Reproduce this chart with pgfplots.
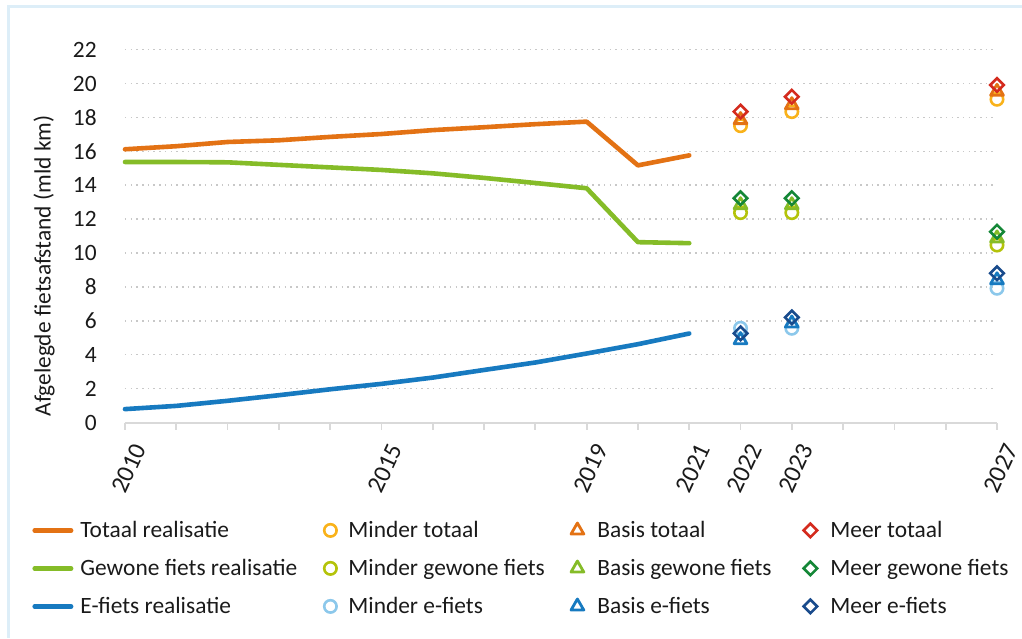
\documentclass[border=0pt]{standalone}
\usepackage{fontspec}
\setmainfont{Carlito}
\usepackage{pgfplots}
\pgfplotsset{compat=1.18}
\definecolor{cOrange}{RGB}{227,114,20}
\definecolor{cGreen}{RGB}{133,188,40}
\definecolor{cBlue}{RGB}{23,122,192}
\definecolor{cYellow}{RGB}{249,178,26}
\definecolor{cRed}{RGB}{212,43,30}
\definecolor{cOlive}{RGB}{180,195,10}
\definecolor{cDkGreen}{RGB}{20,135,55}
\definecolor{cLtBlue}{RGB}{140,200,235}
\definecolor{cDkBlue}{RGB}{25,75,140}
\definecolor{cGrid}{RGB}{200,200,200}
\definecolor{cAxis}{RGB}{217,217,217}
\definecolor{cFrame}{RGB}{221,238,248}
\definecolor{cText}{RGB}{26,26,26}
\newcommand{\chartfont}{\fontsize{11.7}{14}\selectfont}
\newcommand{\xtickfont}{\fontsize{12.5}{15}\selectfont}
\pgfplotsset{
  lineleg/.style={legend image code/.code={\draw[##1, line cap=round] (1.15pt,0pt) -- (19.35pt,0pt); \path[draw=none, fill=none] (0pt,0pt) -- (24pt,0pt);}},
  mkA/.style={legend image code/.code={\path[##1, draw=none, fill=none] (0pt,0pt) -- (17pt,0pt); \draw[##1] plot[only marks] coordinates {(8pt,0pt)};}},
  mkB/.style={legend image code/.code={\path[##1, draw=none, fill=none] (0pt,0pt) -- (18pt,0pt); \draw[##1] plot[only marks] coordinates {(8pt,0pt)};}},
  ser/.style={line width=2.3pt, line cap=round, line join=round, lineleg},
  circ/.style={only marks, mark=o, mark size=3.1pt, mark options={line width=1.3pt, solid}, mkA},
  tri/.style={only marks, mark=triangle, mark size=3.7pt, mark options={line width=1.4pt, solid, line join=round}, mkB},
  dia/.style={only marks, mark=square, mark size=2.4pt, mark options={line width=1.3pt, solid, rotate=45}, mkB},
}
\begin{document}
\begin{tikzpicture}
\useasboundingbox (0,0) rectangle (511pt,319pt);
\draw[cFrame, line width=1.5pt] (4.3pt,0pt) -- (4.3pt,315.5pt) -- (511pt,315.5pt);
\begin{axis}[
  at={(62.5pt,107.75pt)}, anchor=south west,
  scale only axis, width=436pt, height=186.45pt,
  xmin=2010, xmax=2027, ymin=0, ymax=22,
  clip=false,
  axis x line*=bottom, axis y line*=left,
  x axis line style={cAxis, line width=1pt, -},
  y axis line style={draw=none},
  ytick={0,2,...,22},
  ymajorgrids,
  grid style={cGrid, dash pattern=on 0.75pt off 2.1pt, line width=0.75pt},
  xtick={2010,2015,2019,2021,2022,2023,2027},
  xticklabels={2010,2015,2019,2021,2022,2023,2027},
  minor xtick={2011,2012,2013,2014,2016,2017,2018,2020,2024,2025,2026},
  tick align=outside, major tick length=3.5pt, minor tick length=3.5pt,
  tick style={cAxis, line width=0.9pt},
  ytick style={draw=none},
  /pgf/number format/assume math mode=true,
  tick label style={font=\chartfont, text=cText},
  xticklabel style={font=\xtickfont, rotate=65, anchor=east, inner sep=1pt, yshift=-10pt, xshift=-3pt},
  yticklabel style={anchor=east, inner sep=0pt, xshift=-10.5pt},
  ylabel={Afgelegde fietsafstand (mld km)},
  ylabel style={at={(axis description cs:-0.0929,0.42)}, anchor=center, font=\chartfont, text=cText},
  legend columns=4,
  legend cell align=left,
  legend style={draw=none, fill=none, inner sep=0pt, row sep=0pt, column sep=0pt,
    at={(-0.10665,-0.2373)}, anchor=north west, font=\chartfont, text=cText,
    nodes={inner sep=0pt, text height=13pt, text depth=6pt}},
]
\addplot[ser, cOrange] coordinates {(2010,16.12)(2011,16.3)(2012,16.55)(2013,16.65)(2014,16.85)(2015,17.02)(2016,17.25)(2017,17.42)(2018,17.6)(2019,17.75)(2020,15.17)(2021,15.76)};
\addlegendentry{\makebox[117pt][l]{Totaal realisatie}}
\addplot[circ, cYellow] coordinates {(2022,17.51)(2023,18.34)(2027,19.07)};
\addlegendentry{\makebox[106.5pt][l]{Minder totaal}}
\addplot[tri, cOrange] coordinates {(2022,17.85)(2023,18.73)(2027,19.52)};
\addlegendentry{\makebox[98.5pt][l]{Basis totaal}}
\addplot[dia, cRed] coordinates {(2022,18.34)(2023,19.22)(2027,19.91)};
\addlegendentry{Meer totaal}
\addplot[ser, cGreen] coordinates {(2010,15.37)(2011,15.37)(2012,15.35)(2013,15.2)(2014,15.05)(2015,14.9)(2016,14.7)(2017,14.43)(2018,14.13)(2019,13.82)(2020,10.64)(2021,10.58)};
\addlegendentry{\makebox[117pt][l]{Gewone fiets realisatie}}
\addplot[circ, cOlive] coordinates {(2022,12.38)(2023,12.38)(2027,10.47)};
\addlegendentry{\makebox[106.5pt][l]{Minder gewone fiets}}
\addplot[tri, cGreen] coordinates {(2022,12.83)(2023,12.83)(2027,10.87)};
\addlegendentry{\makebox[98.5pt][l]{Basis gewone fiets}}
\addplot[dia, cDkGreen] coordinates {(2022,13.23)(2023,13.23)(2027,11.26)};
\addlegendentry{Meer gewone fiets}
\addplot[ser, cBlue] coordinates {(2010,0.79)(2011,0.98)(2012,1.28)(2013,1.61)(2014,1.96)(2015,2.28)(2016,2.65)(2017,3.1)(2018,3.54)(2019,4.07)(2020,4.62)(2021,5.25)};
\addlegendentry{\makebox[117pt][l]{E-fiets realisatie}}
\addplot[circ, cLtBlue] coordinates {(2022,5.56)(2023,5.56)(2027,7.92)};
\addlegendentry{\makebox[106.5pt][l]{Minder e-fiets}}
\addplot[tri, cBlue] coordinates {(2022,4.87)(2023,5.85)(2027,8.4)};
\addlegendentry{\makebox[98.5pt][l]{Basis e-fiets}}
\addplot[dia, cDkBlue] coordinates {(2022,5.26)(2023,6.2)(2027,8.8)};
\addlegendentry{Meer e-fiets}
\end{axis}
\end{tikzpicture}
\end{document}
